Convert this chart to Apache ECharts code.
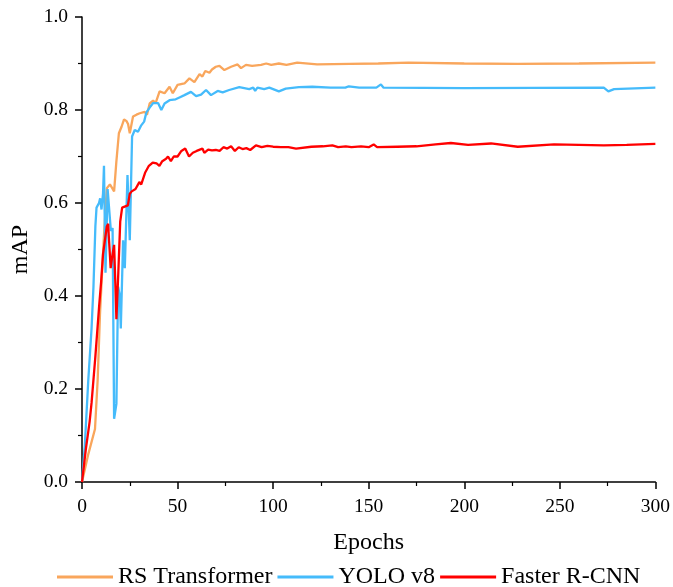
<!DOCTYPE html>
<html lang="en">
<head>
	<meta charset="UTF-8">
	<title>mAP vs Epochs</title>
	<script src="https://cdn.jsdelivr.net/npm/echarts@6/dist/echarts.min.js"></script>
	<style>
		html, body { margin: 0; padding: 0; background: #fff; }
		#charts { width: 673px; height: 587px; }
	</style>
</head>
<body>
<div id="charts"></div>
<script>
	var seriesNames = ['RS Transformer', 'YOLO v8', 'Faster R-CNN'];
	var xTicks = [0, 50, 100, 150, 200, 250, 300];
	var yTicks = [0.0, 0.2, 0.4, 0.6, 0.8, 1.0];

	// RS Transformer
	var rsEpochs = [0, 3.3, 6.8, 8.2, 9.4, 10.5, 11.5, 12.5, 13, 14.6, 15.8, 16.8, 18, 19.3, 20.7, 22, 23.3, 24.1, 25, 26.7,
		28.5, 30.2, 32.8, 34, 35.4, 37.2, 38.5, 40.6, 43.2, 45.8, 47.5, 50, 53.6, 56.2, 58.8, 61.5, 63, 64.5, 66.7, 68,
		70, 71.9, 74.5, 78, 81.4, 83.2, 85.8, 89, 93.7, 96.4, 99, 103, 107, 112.6, 123, 140, 155, 170.8, 200, 228,
		260, 300];
	var rsMap = [0, 0.06, 0.114, 0.22, 0.36, 0.45, 0.53, 0.60, 0.632, 0.64, 0.632, 0.625, 0.69, 0.75, 0.764, 0.78, 0.776, 0.77, 0.75, 0.786,
		0.79, 0.793, 0.796, 0.79, 0.814, 0.82, 0.815, 0.84, 0.836, 0.85, 0.836, 0.854, 0.857, 0.868, 0.86, 0.877, 0.872, 0.884, 0.88, 0.887,
		0.893, 0.895, 0.886, 0.893, 0.898, 0.89, 0.897, 0.895, 0.897, 0.9, 0.897, 0.9, 0.897, 0.902, 0.898, 0.899, 0.9, 0.902, 0.9, 0.899,
		0.9, 0.902];

	// YOLO v8
	var yoloEpochs = [0, 1.5, 3.3, 5, 6, 7, 7.6, 8.9, 9.5, 10.2, 11, 11.5, 12.3, 13.4, 14.2, 15.1, 16, 16.8, 18, 18.9,
		19.8, 20.3, 21.5, 22.4, 23.8, 25, 26.2, 27.6, 29.3, 31, 32.5, 33.7, 35.4, 37.2, 39.8, 41.5, 43.2, 45.8, 49, 51,
		53.6, 57, 59.7, 62.3, 64.9, 67.5, 71, 73.6, 77, 82.3, 87.5, 89.6, 90.6, 91.8, 95.3, 98, 103, 106.6, 113.5, 120.5,
		130, 137.8, 139.6, 145, 154, 156.4, 157.8, 200, 273, 275.4, 278.4, 300];
	var yoloMap = [0, 0.08, 0.22, 0.33, 0.42, 0.55, 0.59, 0.60, 0.61, 0.586, 0.62, 0.68, 0.45, 0.63, 0.63, 0.54, 0.546, 0.136, 0.168, 0.42,
		0.40, 0.33, 0.52, 0.46, 0.66, 0.52, 0.743, 0.757, 0.753, 0.767, 0.775, 0.795, 0.805, 0.815, 0.815, 0.80, 0.814, 0.821, 0.823, 0.827,
		0.832, 0.839, 0.83, 0.833, 0.843, 0.832, 0.841, 0.838, 0.843, 0.849, 0.845, 0.848, 0.841, 0.848, 0.845, 0.848, 0.84, 0.846, 0.849, 0.85,
		0.848, 0.848, 0.851, 0.848, 0.848, 0.855, 0.848, 0.847, 0.848, 0.84, 0.845, 0.848];

	// Faster R-CNN
	var frcnnEpochs = [0, 2, 4, 5, 7, 9, 10, 11, 12, 13, 13.7, 14, 15, 16, 16.8, 17.5, 18, 19, 20, 21,
		22, 24, 25, 26, 28, 30, 31, 33, 35, 37, 39, 40.5, 42, 44, 45, 46.5, 48, 50, 52, 54,
		56, 58, 60, 63, 64, 66, 68, 70, 72, 74, 76, 78, 80, 82, 84, 86, 88, 91, 94, 97,
		100, 104, 108, 112, 120, 126, 131, 134, 138, 141, 146, 150, 152.6, 154.4, 165, 175, 185, 193, 202, 214,
		228, 247, 260, 273, 285, 300];
	var frcnnMap = [0, 0.07, 0.13, 0.17, 0.27, 0.38, 0.43, 0.49, 0.52, 0.55, 0.555, 0.53, 0.46, 0.49, 0.51, 0.42, 0.35, 0.45, 0.56, 0.59,
		0.59, 0.595, 0.62, 0.625, 0.63, 0.645, 0.64, 0.665, 0.68, 0.687, 0.685, 0.68, 0.69, 0.695, 0.70, 0.69, 0.70, 0.70, 0.712, 0.717,
		0.70, 0.708, 0.712, 0.717, 0.708, 0.715, 0.713, 0.714, 0.712, 0.72, 0.717, 0.722, 0.712, 0.72, 0.716, 0.718, 0.714, 0.724, 0.72, 0.723,
		0.721, 0.72, 0.72, 0.717, 0.721, 0.722, 0.724, 0.72, 0.722, 0.72, 0.722, 0.72, 0.726, 0.72, 0.721, 0.722, 0.726, 0.729, 0.725, 0.728,
		0.721, 0.726, 0.725, 0.724, 0.725, 0.727];

	var colors = ['#F9A65C', '#45BBFB', '#FF0000'];
	var font = '"Liberation Serif", "Times New Roman", serif';

	function pairs(xs, ys) {
		var out = [];
		for (var i = 0; i < xs.length; i++) {
			out.push([xs[i], ys[i]]);
		}
		return out;
	}

	var lines = [pairs(rsEpochs, rsMap), pairs(yoloEpochs, yoloMap), pairs(frcnnEpochs, frcnnMap)];

	var charts = echarts.init(document.getElementById('charts'));
	charts.setOption({
		animation: false,
		color: colors,
		grid: {
			left: 82,
			right: 15,
			top: 17,
			bottom: 105
		},
		legend: {
			top: 560,
			left: 52,
			itemWidth: 56,
			itemHeight: 3,
			itemGap: 5,
			icon: 'rect',
			textStyle: {fontFamily: font, fontSize: 24, color: '#000'},
			data: seriesNames
		},
		xAxis: {
			type: 'value',
			min: xTicks[0],
			max: xTicks[xTicks.length - 1],
			interval: 50,
			name: 'Epochs',
			nameLocation: 'middle',
			nameGap: 49,
			nameTextStyle: {fontFamily: font, fontSize: 24, color: '#000'},
			axisLine: {show: true, lineStyle: {color: '#000', width: 1.5}},
			axisTick: {show: true, length: 7, lineStyle: {color: '#000', width: 1.5}},
			minorTick: {show: true, splitNumber: 2, length: 4, lineStyle: {color: '#000', width: 1.2}},
			axisLabel: {fontFamily: font, fontSize: 19.5, color: '#000', margin: 15},
			splitLine: {show: false}
		},
		yAxis: {
			type: 'value',
			min: yTicks[0],
			max: yTicks[yTicks.length - 1],
			interval: 0.2,
			name: 'mAP',
			nameLocation: 'middle',
			nameGap: 45,
			nameTextStyle: {fontFamily: font, fontSize: 24, color: '#000'},
			axisLine: {show: true, lineStyle: {color: '#000', width: 1.5}},
			axisTick: {show: true, length: 7, lineStyle: {color: '#000', width: 1.5}},
			minorTick: {show: true, splitNumber: 2, length: 4, lineStyle: {color: '#000', width: 1.2}},
			axisLabel: {
				fontFamily: font, fontSize: 19.5, color: '#000', margin: 14,
				formatter: function (v) { return v.toFixed(1); }
			},
			splitLine: {show: false}
		},
		series: [
			{
				name: seriesNames[0],
				type: 'line',
				showSymbol: false,
				lineStyle: {width: 2.3},
				data: lines[0]
			},
			{
				name: seriesNames[1],
				type: 'line',
				showSymbol: false,
				lineStyle: {width: 2.3},
				data: lines[1]
			},
			{
				name: seriesNames[2],
				type: 'line',
				showSymbol: false,
				lineStyle: {width: 2.3},
				data: lines[2]
			}
		]
	});
</script>
</body>
</html>
